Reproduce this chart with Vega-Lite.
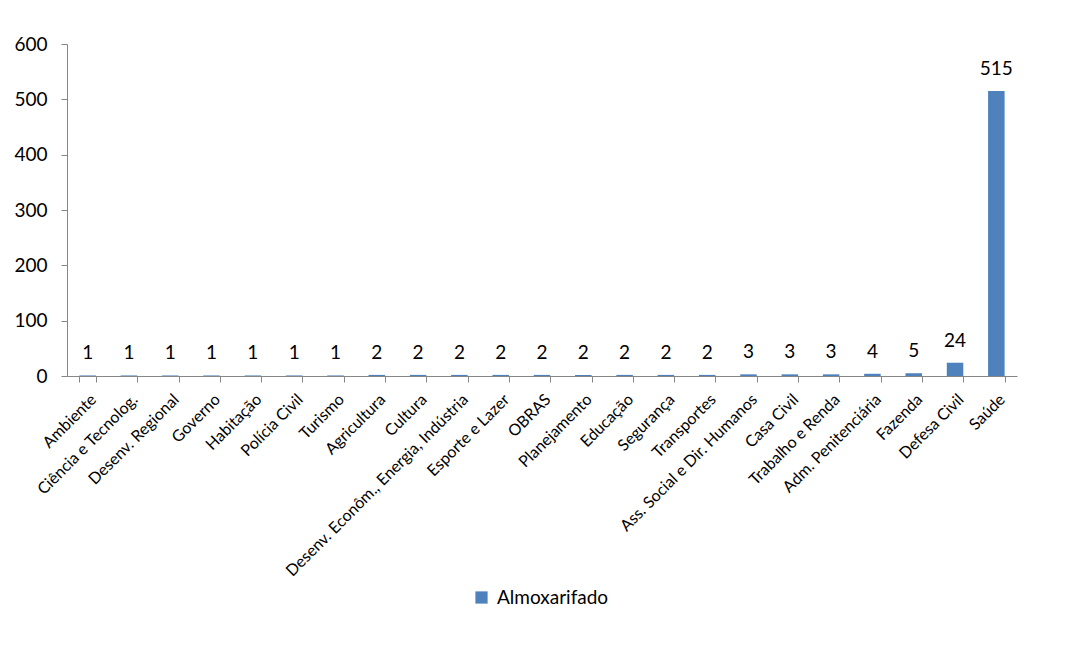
{
  "$schema": "https://vega.github.io/schema/vega-lite/v6.json",
  "width": 950,
  "height": 332,
  "autosize": "none",
  "padding": {"left": 67, "top": 44, "right": 49, "bottom": 282},
  "background": "white",
  "config": {
    "font": "Lato",
    "view": {"stroke": null},
    "axis": {"labelFont": "Lato", "labelColor": "black", "domainColor": "#868686", "tickColor": "#868686", "grid": false, "title": null}
  },
  "data": {
    "values": [
      {"orgao": "Ambiente", "serie": "Almoxarifado", "valor": 1},
      {"orgao": "Ciência e Tecnolog.", "serie": "Almoxarifado", "valor": 1},
      {"orgao": "Desenv. Regional", "serie": "Almoxarifado", "valor": 1},
      {"orgao": "Governo", "serie": "Almoxarifado", "valor": 1},
      {"orgao": "Habitação", "serie": "Almoxarifado", "valor": 1},
      {"orgao": "Polícia Civil", "serie": "Almoxarifado", "valor": 1},
      {"orgao": "Turismo", "serie": "Almoxarifado", "valor": 1},
      {"orgao": "Agricultura", "serie": "Almoxarifado", "valor": 2},
      {"orgao": "Cultura", "serie": "Almoxarifado", "valor": 2},
      {"orgao": "Desenv. Econôm., Energia, Indústria", "serie": "Almoxarifado", "valor": 2},
      {"orgao": "Esporte e Lazer", "serie": "Almoxarifado", "valor": 2},
      {"orgao": "OBRAS", "serie": "Almoxarifado", "valor": 2},
      {"orgao": "Planejamento", "serie": "Almoxarifado", "valor": 2},
      {"orgao": "Educação", "serie": "Almoxarifado", "valor": 2},
      {"orgao": "Segurança", "serie": "Almoxarifado", "valor": 2},
      {"orgao": "Transportes", "serie": "Almoxarifado", "valor": 2},
      {"orgao": "Ass. Social e Dir. Humanos", "serie": "Almoxarifado", "valor": 3},
      {"orgao": "Casa Civil", "serie": "Almoxarifado", "valor": 3},
      {"orgao": "Trabalho e Renda", "serie": "Almoxarifado", "valor": 3},
      {"orgao": "Adm. Penitenciária", "serie": "Almoxarifado", "valor": 4},
      {"orgao": "Fazenda", "serie": "Almoxarifado", "valor": 5},
      {"orgao": "Defesa Civil", "serie": "Almoxarifado", "valor": 24},
      {"orgao": "Saúde", "serie": "Almoxarifado", "valor": 515}
    ]
  },
  "encoding": {
    "x": {
      "field": "orgao", "type": "nominal", "sort": null,
      "scale": {"paddingInner": 0.6, "paddingOuter": 0.3},
      "axis": {"labelAngle": -45, "labelFontSize": 16, "tickBand": "extent", "tickSize": 6, "labelPadding": 9, "labelLimit": 400}
    },
    "y": {
      "field": "valor", "type": "quantitative",
      "scale": {"domain": [0, 600], "nice": false},
      "axis": {"values": [0, 100, 200, 300, 400, 500, 600], "labelFontSize": 19, "tickSize": 6, "labelPadding": 14}
    }
  },
  "layer": [
    {
      "mark": {"type": "bar", "color": "#4F81BD"},
      "encoding": {
        "color": {
          "field": "serie", "type": "nominal",
          "scale": {"range": ["#4F81BD"]},
          "legend": {"orient": "none", "legendX": 405, "legendY": 544, "title": null, "labelFontSize": 19, "symbolType": "square", "symbolSize": 150, "labelColor": "black", "labelOffset": 6}
        }
      }
    },
    {
      "mark": {"type": "text", "baseline": "bottom", "dy": -12, "fontSize": 19, "color": "black"},
      "encoding": {"text": {"field": "valor", "type": "quantitative"}}
    }
  ]
}
